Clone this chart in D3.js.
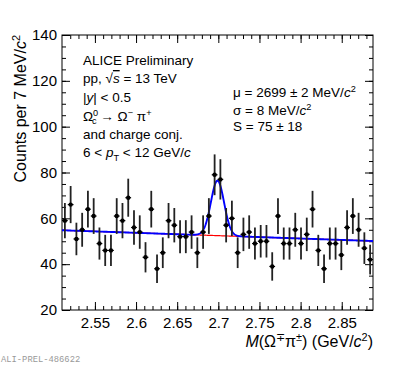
<!DOCTYPE html>
<html>
<head>
<meta charset="utf-8">
<script src="https://cdn.jsdelivr.net/npm/d3@7"></script>
<style>
  body { margin: 0; background: #fff; }
  svg { font-family: "Liberation Sans", Arial, Helvetica, sans-serif; }
  .axis path.domain { display: none; }
  .axis line { stroke: #000; stroke-width: 1; }
  .axis text { font-size: 15px; fill: #000; font-family: "Liberation Sans", Arial, sans-serif; }
</style>
</head>
<body>
<script>
//wrap in a self-executing function to keep things local
(function(){

//bin centres of the invariant-mass histogram (GeV/c^2), 7 MeV bins
var massBins = [2.5135, 2.5205, 2.5275, 2.5345, 2.5415, 2.5485, 2.5555, 2.5625, 2.5695, 2.5765,
    2.5835, 2.5905, 2.5975, 2.6045, 2.6115, 2.6185, 2.6255, 2.6325, 2.6395, 2.6465,
    2.6535, 2.6605, 2.6675, 2.6745, 2.6815, 2.6885, 2.6955, 2.7025, 2.7095, 2.7165,
    2.7235, 2.7305, 2.7375, 2.7445, 2.7515, 2.7585, 2.7655, 2.7725, 2.7795, 2.7865,
    2.7935, 2.8005, 2.8075, 2.8145, 2.8215, 2.8285, 2.8355, 2.8425, 2.8495, 2.8565,
    2.8635, 2.8705, 2.8775, 2.8845];
var binHalfWidth = 0.0035;

//counts per bin
var counts = [59, 66, 51, 55, 64, 61, 49, 46, 46, 61,
    59, 69, 56, 54, 43, 64, 38, 45, 59, 57,
    52, 52, 54, 45, 54, 61, 79, 77, 57, 60,
    45, 53, 54, 49, 50, 50, 39, 61, 49, 49,
    55, 49, 53, 64, 46, 38, 49, 49, 44, 56,
    61, 55, 47, 42];

//statistical errors
var errors = [7.7, 8.1, 7.1, 7.4, 8.0, 7.8, 7.0, 6.8, 6.8, 7.8,
    7.7, 8.3, 7.5, 7.3, 6.6, 8.0, 6.2, 6.7, 7.7, 7.5,
    7.2, 7.2, 7.3, 6.7, 7.3, 7.8, 8.9, 8.8, 7.5, 7.7,
    6.7, 7.3, 7.3, 7.0, 7.1, 7.1, 6.2, 7.8, 7.0, 7.0,
    7.4, 7.0, 7.3, 8.0, 6.8, 6.2, 7.0, 7.0, 6.6, 7.5,
    7.8, 7.4, 6.9, 6.5];

//fit parameters: linear background + gaussian
var bkgStart = [2.51, 54.8];
var bkgEnd = [2.888, 50.1];
var gausMean = 2.699, gausSigma = 0.008, gausAmp = 24;

//axis ticks
var xMajorTicks = [2.55, 2.6, 2.65, 2.7, 2.75, 2.8, 2.85];
var yMajorTicks = [20, 40, 60, 80, 100, 120, 140];

var width = 415, height = 365;
var left = 62, right = 373, top = 35, bottom = 310;

var svg = d3.select("body").append("svg")
    .attr("width", width)
    .attr("height", height);

var x = d3.scaleLinear().domain([2.51, 2.888]).range([left, right]);
var y = d3.scaleLinear().domain([20, 140]).range([bottom, top]);

var xMinor = d3.range(2.52, 2.889, 0.01);
var yMinor = d3.range(20, 140.1, 5);

//bottom axis: major with labels, minor without
svg.append("g").attr("class", "axis")
    .attr("transform", "translate(0," + bottom + ")")
    .call(d3.axisBottom(x).tickValues(xMajorTicks).tickSize(-8).tickSizeOuter(0).tickPadding(7.5)
        .tickFormat(function(d){ return d3.format("")(+d.toFixed(2)); }));
svg.append("g").attr("class", "axis")
    .attr("transform", "translate(0," + bottom + ")")
    .call(d3.axisBottom(x).tickValues(xMinor).tickSize(-4).tickSizeOuter(0).tickFormat(""));
//top axis mirror
svg.append("g").attr("class", "axis")
    .attr("transform", "translate(0," + top + ")")
    .call(d3.axisTop(x).tickValues(xMajorTicks).tickSize(-8).tickSizeOuter(0).tickFormat(""));
svg.append("g").attr("class", "axis")
    .attr("transform", "translate(0," + top + ")")
    .call(d3.axisTop(x).tickValues(xMinor).tickSize(-4).tickSizeOuter(0).tickFormat(""));

//left axis
svg.append("g").attr("class", "axis")
    .attr("transform", "translate(" + left + ",0)")
    .call(d3.axisLeft(y).tickValues(yMajorTicks).tickSize(-8).tickSizeOuter(0).tickPadding(5));
svg.append("g").attr("class", "axis")
    .attr("transform", "translate(" + left + ",0)")
    .call(d3.axisLeft(y).tickValues(yMinor).tickSize(-4).tickSizeOuter(0).tickFormat(""));
//right axis mirror
svg.append("g").attr("class", "axis")
    .attr("transform", "translate(" + right + ",0)")
    .call(d3.axisRight(y).tickValues(yMajorTicks).tickSize(-8).tickSizeOuter(0).tickFormat(""));
svg.append("g").attr("class", "axis")
    .attr("transform", "translate(" + right + ",0)")
    .call(d3.axisRight(y).tickValues(yMinor).tickSize(-4).tickSizeOuter(0).tickFormat(""));

//frame
svg.append("rect")
    .attr("x", left).attr("y", top)
    .attr("width", right - left).attr("height", bottom - top)
    .attr("fill", "none").attr("stroke", "#000").attr("stroke-width", 1);

//fit curves
var massGrid = d3.range(2.51, 2.8881, 0.0005);
function bkg(m){
    return bkgStart[1] + (bkgEnd[1] - bkgStart[1]) * (m - bkgStart[0]) / (bkgEnd[0] - bkgStart[0]);
}
function total(m){
    var z = (m - gausMean) / gausSigma;
    return bkg(m) + gausAmp * Math.exp(-0.5 * z * z);
}
var line = d3.line().x(function(d){ return x(d[0]); }).y(function(d){ return y(d[1]); });

svg.append("path")
    .datum(massGrid.map(function(m){ return [m, bkg(m)]; }))
    .attr("d", line)
    .attr("fill", "none").attr("stroke", "#ff0000").attr("stroke-width", 1.2);
svg.append("path")
    .datum(massGrid.map(function(m){ return [m, total(m)]; }))
    .attr("d", line)
    .attr("fill", "none").attr("stroke", "#0000ff").attr("stroke-width", 1.9);

//data points
var points = svg.append("g").selectAll("g")
    .data(massBins)
    .enter()
    .append("g");
points.append("line") //y error
    .attr("x1", function(d){ return x(d); })
    .attr("x2", function(d){ return x(d); })
    .attr("y1", function(d, i){ return y(counts[i] - errors[i]); })
    .attr("y2", function(d, i){ return y(counts[i] + errors[i]); })
    .attr("stroke", "#222").attr("stroke-width", 1.8);
points.append("line") //x error (half bin)
    .attr("x1", function(d){ return x(d - binHalfWidth); })
    .attr("x2", function(d){ return x(d + binHalfWidth); })
    .attr("y1", function(d, i){ return y(counts[i]); })
    .attr("y2", function(d, i){ return y(counts[i]); })
    .attr("stroke", "#000").attr("stroke-width", 1.2);
points.append("circle")
    .attr("cx", function(d){ return x(d); })
    .attr("cy", function(d, i){ return y(counts[i]); })
    .attr("r", 2.2)
    .attr("fill", "#000");

//rich text helper: parts are [text, style, dx]
function rich(textSel, parts, fs){
    var shift = 0;
    parts.forEach(function(p){
        var t = textSel.append("tspan").text(p[0]);
        var st = p[1] || "";
        var target = 0;
        if (st.indexOf("sup") >= 0) { target = -0.36 * fs; t.attr("font-size", fs * 0.68); }
        if (st.indexOf("sub") >= 0) { target = 0.28 * fs; t.attr("font-size", fs * 0.68); }
        if (st.indexOf("ital") >= 0) t.attr("font-style", "italic");
        if (p[2] !== undefined) t.attr("dx", p[2]);
        t.attr("dy", target - shift);
        shift = target;
    });
}

function label(xp, yp, parts, fs, anchor){
    var t = svg.append("text")
        .attr("x", xp).attr("y", yp)
        .attr("font-size", fs)
        .attr("text-anchor", anchor || "start");
    rich(t, parts, fs);
    return t;
}

//left info block
var fs = 13.5;
label(83, 64.5, [["ALICE Preliminary"]], fs);
var ppText = label(83, 83, [["pp, \u221A"]], fs);
ppText.append("tspan").attr("font-style", "italic")
    .style("text-decoration", "overline").text("s");
ppText.append("tspan").text(" = 13 TeV");
label(83, 101.5, [["|"], ["y", "ital"], ["| < 0.5"]], fs);
label(83, 120.5, [["\u03A9"], ["0", "sup"], ["c", "sub", -6.2], [" \u2192 \u03A9"], ["\u2212", "sup"], [" \u03C0"], ["+", "sup"]], fs);
label(83, 138.5, [["and charge conj."]], fs);
label(83, 157, [["6 < "], ["p", "ital"], ["T", "sub"], [" < 12 GeV/"], ["c", "ital"]], fs);

//fit results block
label(233, 97, [["\u03BC = 2699 \u00B1 2 MeV/"], ["c", "ital"], ["2", "sup"]], fs);
label(233, 114.5, [["\u03C3 = 8 MeV/"], ["c", "ital"], ["2", "sup"]], fs);
label(233, 131, [["S = 75 \u00B1 18"]], fs);

//axis titles
label(373, 347, [["M", "ital"], ["(\u03A9"], ["\u2213", "sup"], ["\u03C0"], ["\u00B1", "sup"], [") (GeV/"], ["c", "ital"], ["2", "sup"], [")"]], 16, "end");

var yTitle = svg.append("text")
    .attr("transform", "translate(26," + top + ") rotate(-90)")
    .attr("font-size", 16)
    .attr("text-anchor", "end");
rich(yTitle, [["Counts per 7 MeV/"], ["c", "ital"], ["2", "sup"]], 16);

//preliminary id
svg.append("text")
    .attr("x", 1).attr("y", 362)
    .attr("font-family", "'Liberation Mono', 'DejaVu Sans Mono', monospace")
    .attr("font-size", 8.8)
    .attr("fill", "#999")
    .text("ALI-PREL-486622");

})();
</script>
</body>
</html>
